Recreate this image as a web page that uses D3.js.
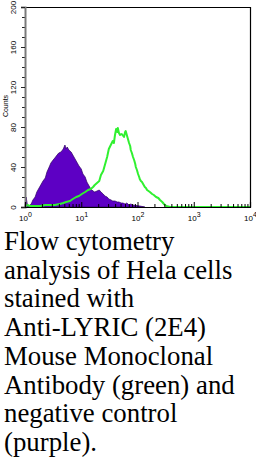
<!DOCTYPE html>
<html>
<head>
<meta charset="utf-8">
<script src="https://cdn.jsdelivr.net/npm/d3@7"></script>
<style>
  html, body { margin: 0; padding: 0; background: #fff; }
  svg { display: block; }
  .caption { font-family: "Liberation Serif", "Times New Roman", serif; font-size: 26.8px; }
  .axis-text { font-family: "Liberation Sans", Arial, sans-serif; }
</style>
</head>
<body>
<div id="chart"></div>
<script>
// log10 fluorescence intensity (decades) and counts
const purpleLog = [0.00, 0.02, 0.04, 0.07, 0.11, 0.14, 0.18, 0.21, 0.25, 0.28, 0.32, 0.36, 0.39, 0.43, 0.46,
  0.50, 0.53, 0.57, 0.60, 0.64, 0.68, 0.71, 0.73, 0.75, 0.78, 0.82, 0.85, 0.89, 0.92, 0.96, 1.00,
  1.03, 1.07, 1.10, 1.14, 1.17, 1.21, 1.24, 1.28, 1.32, 1.35, 1.39, 1.42, 1.46, 1.49, 1.53, 1.56,
  1.60, 1.64, 1.67, 1.71, 1.74, 1.78, 1.81, 1.85, 1.88, 1.92, 2.04, 2.13];
const purpleCounts = [0, 10, 3, 1, 3, 7, 10, 15, 19, 22, 26, 29, 35, 40, 44,
  47, 49, 52, 54, 55, 58, 62, 58, 60, 57, 55, 52, 48, 45, 41, 38,
  33, 30, 25, 21, 18, 16, 15, 16, 17, 15, 13, 11, 10, 8, 7, 6,
  6, 5, 5, 4, 4, 3, 4, 2, 3, 2, 1, 0];

const greenLog = [0.00, 0.04, 0.09, 0.18, 0.27, 0.36, 0.44, 0.53, 0.62, 0.68, 0.73, 0.80, 0.85, 0.91, 0.96,
  1.01, 1.07, 1.12, 1.17, 1.21, 1.24, 1.28, 1.32, 1.35, 1.39, 1.42, 1.46, 1.49, 1.56, 1.58, 1.60,
  1.62, 1.64, 1.65, 1.67, 1.69, 1.72, 1.76, 1.78, 1.79, 1.81, 1.83, 1.85, 1.87, 1.88, 1.90, 1.92,
  1.94, 1.96, 1.97, 1.99, 2.01, 2.03, 2.04, 2.06, 2.08, 2.10, 2.12, 2.13, 2.15, 2.17, 2.22, 2.26,
  2.29, 2.33, 2.37, 2.40, 2.44, 2.47, 2.51, 2.58, 4.00];
const greenCounts = [0, 2, 1, 1, 1, 2, 2, 2, 3, 4, 5, 6, 8, 10, 11,
  13, 15, 17, 18, 20, 22, 24, 26, 32, 36, 42, 50, 58, 66, 64, 72,
  78, 75, 79, 74, 72, 73, 70, 75, 76, 72, 68, 64, 61, 57, 54, 50,
  47, 43, 40, 37, 33, 30, 28, 26, 25, 23, 21, 20, 19, 17, 15, 13,
  12, 10, 9, 7, 5, 3, 1, 0, 0];

const yTicks = [0, 40, 80, 120, 160, 200];
const xDecades = [0, 1, 2, 3, 4];

const captionLines = [
  'Flow cytometry',
  'analysis of Hela cells',
  'stained with',
  'Anti-LYRIC (2E4)',
  'Mouse Monoclonal',
  'Antibody (green) and',
  'negative control',
  '(purple).'
];

const width = 256, height = 472;
const plotLeft = 25, plotRight = 250, plotTop = 7, plotBottom = 207;

const svg = d3.select('#chart').append('svg')
  .attr('width', width)
  .attr('height', height);

const x = d3.scaleLog().domain([1, 10000]).range([plotLeft, plotRight]);
const y = d3.scaleLinear().domain([0, 200]).range([plotBottom, plotTop]);

const purple = purpleLog.map((d, i) => ({ v: 10 ** d, c: purpleCounts[i] }));
const green = greenLog.map((d, i) => ({ v: 10 ** d, c: greenCounts[i] }));

// negative control, filled
svg.append('path')
  .datum(purple)
  .attr('fill', '#5d00c4')
  .attr('stroke', '#2e0063')
  .attr('stroke-width', 0.7)
  .attr('d', d3.area().x(d => x(d.v)).y0(plotBottom).y1(d => y(d.c)));

// stained sample, outline
svg.append('path')
  .datum(green)
  .attr('fill', 'none')
  .attr('stroke', '#30f030')
  .attr('stroke-width', 2)
  .attr('stroke-linejoin', 'round')
  .attr('d', d3.line().x(d => x(d.v)).y(d => y(d.c)));

// frame: top and right
svg.append('path')
  .attr('fill', 'none')
  .attr('stroke', '#000')
  .attr('stroke-width', 1.2)
  .attr('d', `M${plotLeft},${plotTop + 0.5}H${plotRight + 0.5}V${plotBottom}`);

// y axis, minor ticks every 10
const yMinor = d3.range(0, 201, 10);
svg.append('g')
  .attr('transform', `translate(${plotLeft},0)`)
  .call(d3.axisLeft(y).tickValues(yMinor).tickSize(3).tickFormat(''))
  .call(g => g.select('.domain').remove())
  .call(g => g.selectAll('line').attr('stroke', '#222'));

const yAxis = svg.append('g')
  .attr('transform', `translate(${plotLeft},0)`)
  .call(d3.axisLeft(y).tickValues(yTicks).tickSize(4).tickPadding(0))
  .call(g => g.select('.domain').attr('stroke', '#7a7a7a').attr('stroke-width', 2))
  .call(g => g.selectAll('line').attr('stroke', '#222'));

yAxis.attr('font-family', null);
yAxis.selectAll('.tick text')
  .attr('class', 'axis-text')
  .attr('font-size', 8)
  .attr('fill', '#000')
  .attr('text-anchor', 'middle')
  .attr('dy', null)
  .attr('x', 0)
  .attr('y', 0)
  .attr('dominant-baseline', 'central')
  .attr('transform', 'translate(-12,0) rotate(-90)');

svg.append('text')
  .attr('class', 'axis-text')
  .attr('transform', `translate(5,106) rotate(-90)`)
  .attr('text-anchor', 'middle')
  .attr('dominant-baseline', 'central')
  .attr('font-size', 7)
  .text('Counts');

// x axis: ticks drawn inward
const xMinor = [];
xDecades.slice(0, -1).forEach(e => { for (let k = 2; k <= 9; k++) xMinor.push(k * 10 ** e); });

svg.append('g')
  .attr('transform', `translate(0,${plotBottom})`)
  .call(d3.axisBottom(x).tickValues(xMinor).tickSize(-3).tickFormat(''))
  .call(g => g.select('.domain').remove())
  .call(g => g.selectAll('line').attr('stroke', '#000'));

const xAxis = svg.append('g')
  .attr('transform', `translate(0,${plotBottom})`)
  .call(d3.axisBottom(x).tickValues(xDecades.map(e => 10 ** e)).tickSize(-5).tickFormat(''))
  .call(g => g.select('.domain').attr('stroke', '#000').attr('stroke-width', 1.2))
  .call(g => g.selectAll('line').attr('stroke', '#000'));

xAxis.attr('font-family', null);
xAxis.selectAll('.tick').each(function (d, i) {
  d3.select(this).select('text').remove();
  const t = d3.select(this).append('text')
    .attr('class', 'axis-text')
    .attr('y', 14)
    .attr('text-anchor', 'middle')
    .attr('font-size', 8)
    .attr('fill', '#000');
  t.append('tspan').text('10');
  t.append('tspan').attr('dy', -4).attr('font-size', 7).text(xDecades[i]);
});

// caption
svg.append('g')
  .selectAll('text')
  .data(captionLines)
  .join('text')
  .attr('class', 'caption')
  .attr('x', 4)
  .attr('y', (d, i) => 250 + i * 28.7)
  .attr('fill', '#000')
  .text(d => d);
</script>
</body>
</html>
